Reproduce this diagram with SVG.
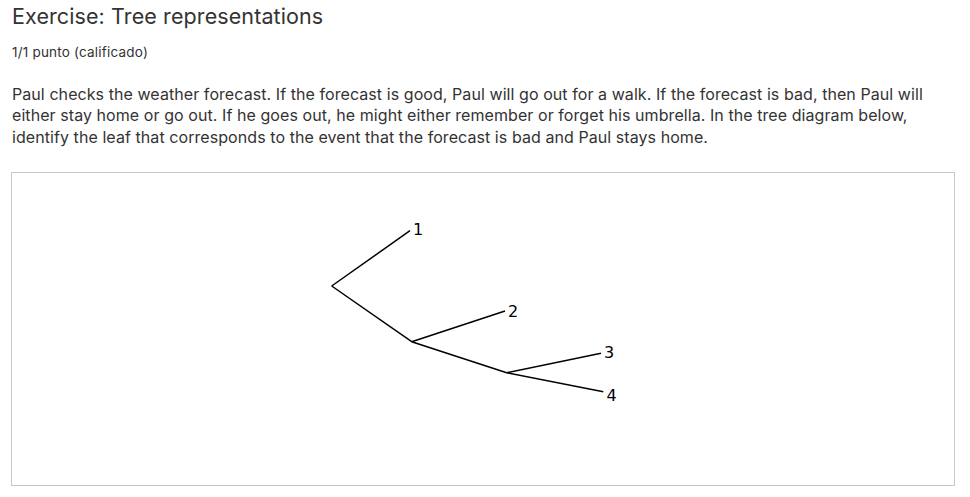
<svg xmlns="http://www.w3.org/2000/svg" width="970" height="497" viewBox="0 0 970 497">
<style>
.t{font-family:Inter,"Noto Sans","Liberation Sans",sans-serif;fill:#333}
.lbl{font-family:"DejaVu Sans","Liberation Sans",sans-serif;font-size:16px;fill:#000}
.edge{stroke:#000;stroke-width:1.5;fill:none}
</style>
<rect width="970" height="497" fill="#fff"/>
<text class="t" x="12" y="24" font-size="21.5" letter-spacing="0.1">Exercise: Tree representations</text>
<text class="t" x="12" y="57.3" font-size="13.5" letter-spacing="0.2" fill="#444">1/1 punto (calificado)</text>
<text class="t" font-size="16" letter-spacing="0.07">
<tspan x="12" y="99.5">Paul checks the weather forecast. If the forecast is good, Paul will go out for a walk. If the forecast is bad, then Paul will</tspan>
<tspan x="12" y="121">either stay home or go out. If he goes out, he might either remember or forget his umbrella. In the tree diagram below,</tspan>
<tspan x="12" y="142.5">identify the leaf that corresponds to the event that the forecast is bad and Paul stays home.</tspan>
</text>
<rect x="11.5" y="172.5" width="943" height="313" fill="none" stroke="#c8c8c8" stroke-width="1"/>
<g id="connectors">
<path class="edge" d="M331.7 286 L410 230.7"/>
<path class="edge" d="M331.7 286 L411.7 341.7"/>
<path class="edge" d="M411.7 341.7 L505 311"/>
<path class="edge" d="M411.7 341.7 L506.7 372.7"/>
<path class="edge" d="M506.7 372.7 L601 353.3"/>
<path class="edge" d="M506.7 372.7 L603.3 391.7"/>
</g>
<g id="leaf1"><text class="lbl" x="413" y="235">1</text></g>
<g id="leaf2"><text class="lbl" x="508" y="316.5">2</text></g>
<g id="leaf3"><text class="lbl" x="604" y="358">3</text></g>
<g id="leaf4"><text class="lbl" x="606.5" y="400.5">4</text></g>
</svg>
